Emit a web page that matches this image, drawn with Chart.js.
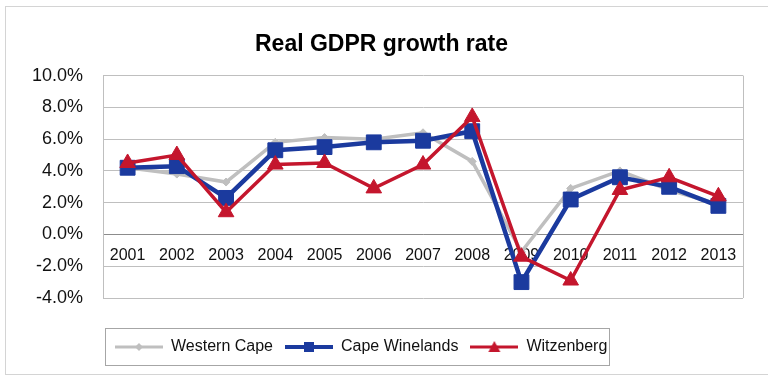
<!DOCTYPE html>
<html>
<head>
<meta charset="utf-8">
<script src="https://cdn.jsdelivr.net/npm/chart.js@4/dist/chart.umd.min.js"></script>
<style>
  html, body { margin: 0; padding: 0; background: #fff; }
  #wrap { width: 768px; height: 383px; position: relative; }
</style>
</head>
<body>
<div id="wrap"><canvas id="gdprChart"></canvas></div>
<script>
// 年ごとの実質GDPR成長率 (%)
const years = ['2001', '2002', '2003', '2004', '2005', '2006', '2007', '2008', '2009', '2010', '2011', '2012', '2013'];
const westernCape = [4.2, 3.8, 3.3, 5.8, 6.1, 6.0, 6.4, 4.6, -1.1, 2.9, 4.0, 2.8, 1.9];
const capeWinelands = [4.2, 4.3, 2.3, 5.3, 5.5, 5.8, 5.9, 6.5, -3.0, 2.2, 3.6, 3.0, 1.8];
const witzenberg = [4.5, 5.0, 1.4, 4.4, 4.5, 2.9, 4.4, 7.4, -1.4, -2.9, 2.8, 3.6, 2.4];
const yTicks = [-4, -2, 0, 2, 4, 6, 8, 10];

const FONT = "'Liberation Sans', Arial, sans-serif";
const GRAY = '#BFBFBF';
const BLUE = '#1B3A9E';
const RED = '#C4162D';

// 凡例用の線+マーカー画像
function legendSwatch(color, lineWidth, marker) {
    const c = document.createElement('canvas');
    c.width = 48;
    c.height = 16;
    const g = c.getContext('2d');
    g.strokeStyle = color;
    g.fillStyle = color;
    g.lineWidth = lineWidth;
    g.beginPath();
    g.moveTo(0, 8);
    g.lineTo(48, 8);
    g.stroke();
    g.beginPath();
    if (marker === 'diamond') {
        g.moveTo(24, 4); g.lineTo(28, 8); g.lineTo(24, 12); g.lineTo(20, 8);
    } else if (marker === 'square') {
        g.rect(19, 3, 10, 10);
    } else {
        g.moveTo(24, 2); g.lineTo(30, 13); g.lineTo(18, 13);
    }
    g.closePath();
    g.fill();
    return c;
}

const swatches = [
    legendSwatch(GRAY, 3, 'diamond'),
    legendSwatch(BLUE, 4, 'square'),
    legendSwatch(RED, 3, 'triangle')
];

// 外枠・プロット枠・凡例枠
const framePlugin = {
    id: 'frames',
    beforeDraw(chart) {
        const ctx = chart.ctx;
        ctx.save();
        ctx.fillStyle = '#fff';
        ctx.fillRect(0, 0, chart.width, chart.height);
        ctx.strokeStyle = '#D4D4D4';
        ctx.lineWidth = 1;
        ctx.strokeRect(5.5, 6.5, chart.width + 10, 368);
        ctx.restore();
    },
    beforeDatasetsDraw(chart) {
        const a = chart.chartArea;
        const ctx = chart.ctx;
        ctx.save();
        ctx.strokeStyle = GRAY;
        ctx.lineWidth = 1;
        ctx.beginPath();
        ctx.moveTo(Math.round(a.right) + 0.5, a.top);
        ctx.lineTo(Math.round(a.right) + 0.5, a.bottom);
        ctx.stroke();
        ctx.restore();
    },
    afterDraw(chart) {
        const boxes = chart.legend.legendHitBoxes;
        if (!boxes || !boxes.length) return;
        const first = boxes[0];
        const last = boxes[boxes.length - 1];
        const ctx = chart.ctx;
        ctx.save();
        ctx.strokeStyle = '#A6A6A6';
        ctx.lineWidth = 1;
        const left = Math.round(first.left - 10) + 0.5;
        const right = Math.round(last.left + last.width + 2) + 0.5;
        const top = Math.round(first.top - 11) + 0.5;
        const bottom = Math.round(first.top + first.height + 10) + 0.5;
        ctx.strokeRect(left, top, right - left, bottom - top);
        ctx.restore();
    }
};

const ctx = document.getElementById('gdprChart').getContext('2d');
const gdprChart = new Chart(ctx, {
    type: 'line',
    data: {
        labels: years,
        datasets: [
            {
                label: 'Western Cape',
                data: westernCape,
                borderColor: GRAY,
                backgroundColor: GRAY,
                borderWidth: 3.5,
                pointStyle: 'rectRot',
                pointRadius: 4,
                pointBorderWidth: 1,
                order: 3
            },
            {
                label: 'Cape Winelands',
                data: capeWinelands,
                borderColor: BLUE,
                backgroundColor: BLUE,
                borderWidth: 4.5,
                pointStyle: 'rect',
                pointRadius: 10.5,
                pointBorderWidth: 1,
                order: 2
            },
            {
                label: 'Witzenberg',
                data: witzenberg,
                borderColor: RED,
                backgroundColor: RED,
                borderWidth: 3.5,
                pointStyle: 'triangle',
                pointRadius: 9,
                pointBorderWidth: 1,
                order: 1
            }
        ]
    },
    options: {
        responsive: true,
        maintainAspectRatio: false,
        animation: false,
        layout: {
            padding: { top: 31, left: 20, right: 25, bottom: 18 }
        },
        elements: {
            line: { tension: 0 }
        },
        scales: {
            x: {
                position: { y: 0 },
                offset: true,
                grid: { display: false, drawTicks: false },
                border: { color: '#8C8C8C', width: 1 },
                ticks: {
                    color: '#111',
                    padding: 12,
                    maxRotation: 0,
                    autoSkip: false,
                    font: { family: FONT, size: 16 }
                }
            },
            y: {
                min: -4,
                max: 10,
                afterBuildTicks(scale) {
                    scale.ticks = yTicks.map(v => ({ value: v }));
                },
                afterFit(scale) {
                    scale.width = 83;
                },
                grid: { color: GRAY, drawTicks: false },
                border: { color: GRAY },
                ticks: {
                    color: '#111',
                    padding: 20,
                    font: { family: FONT, size: 18 },
                    callback: (v) => v.toFixed(1) + '%'
                }
            }
        },
        plugins: {
            title: {
                display: true,
                text: 'Real GDPR growth rate',
                color: '#000',
                font: { family: FONT, size: 23, weight: 'bold' },
                padding: { top: 0, bottom: 17 }
            },
            legend: {
                position: 'bottom',
                align: 'start',
                fullSize: false,
                title: {
                    display: true,
                    text: '',
                    font: { size: 10 },
                    padding: { top: 17, bottom: 0 }
                },
                labels: {
                    usePointStyle: true,
                    pointStyleWidth: 48,
                    padding: 12,
                    color: '#111',
                    font: { family: FONT, size: 16 },
                    generateLabels(chart) {
                        return chart.data.datasets.map((ds, i) => ({
                            text: ds.label,
                            pointStyle: swatches[i],
                            fillStyle: ds.borderColor,
                            strokeStyle: ds.borderColor,
                            lineWidth: 0,
                            fontColor: '#111',
                            hidden: !chart.isDatasetVisible(i),
                            datasetIndex: i
                        }));
                    }
                }
            },
            tooltip: { enabled: false }
        }
    },
    plugins: [framePlugin]
});
</script>
</body>
</html>
